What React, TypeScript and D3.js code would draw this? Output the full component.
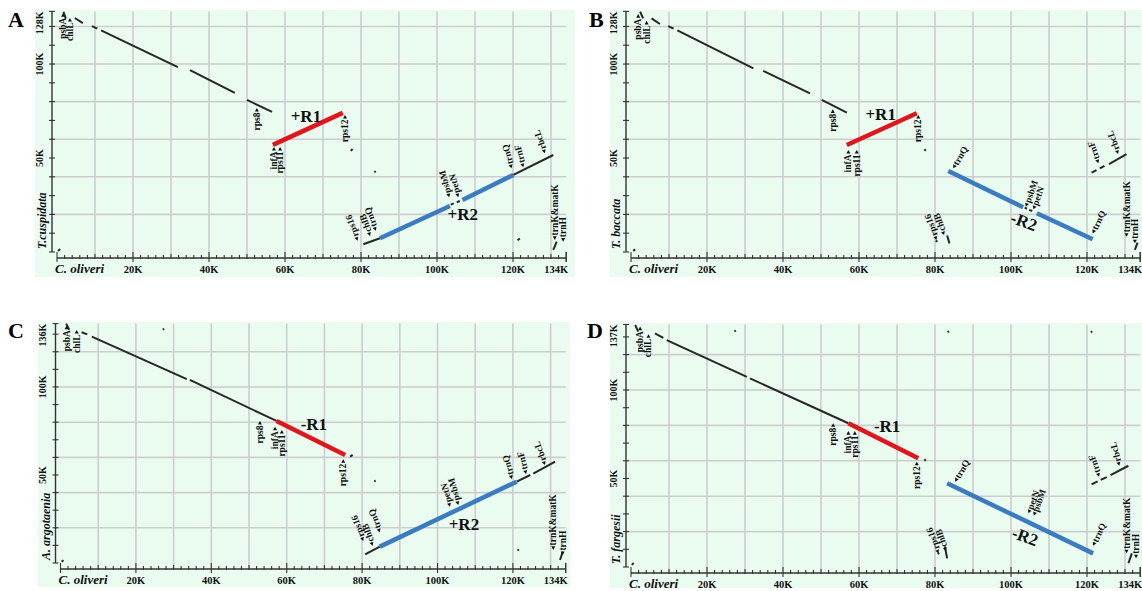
import React from "react";
import * as d3 from "d3";

type Seg = [number, number, number, number];
// name, x (K), y (K), rotation, anchor
type Lab = [string, number, number, number, "start" | "end"];
type Reg = [string, number, number, number];

const xMax = 134;
const xTicks = [20, 40, 60, 80, 100, 120, 134];

// ---- panel A : T. cuspidata vs C. oliveri
const blackA: Seg[] = [
  [0.3, 0.5, 0.8, 1.6],
  [1.7, 127.8, 2.3, 124.3],
  [4.7, 124.5, 6.8, 121.8],
  [9.2, 120.2, 10.6, 118.8],
  [11.6, 117.9, 31.8, 98.4],
  [35.0, 96.8, 46.8, 84.6],
  [50.0, 80.9, 56.6, 74.5],
  [77.3, 53.8, 77.8, 54.8],
  [83.5, 42.5, 83.9, 42.9],
  [80.6, 4.1, 85.0, 7.3],
  [103.6, 25.2, 104.4, 25.9],
  [105.2, 26.5, 106.0, 27.1],
  [120.1, 41.0, 130.6, 51.6],
  [121.2, 6.2, 121.8, 7.2],
  [130.6, 1.1, 131.5, 5.5],
];
const redA: Seg[] = [[56.8, 57.0, 75.2, 74.0]];
const blueA: Seg[] = [
  [85.0, 7.3, 103.4, 24.5],
  [106.7, 27.7, 120.1, 41.0],
];
const labelsA: Lab[] = [
  ["psbA", 1.6, 127.1, -90, "end"],
  ["chlL", 3.4, 124.5, -90, "end"],
  ["rps8", 52.6, 76.6, -90, "end"],
  ["infA", 57.1, 55.9, -90, "end"],
  ["rps11", 58.7, 55.9, -90, "end"],
  ["rps12", 75.8, 72.9, -90, "end"],
  ["rps16", 79.1, 6.0, -110, "start"],
  ["chlB", 82.4, 8.5, -110, "start"],
  ["trnQ", 83.9, 11.3, -110, "start"],
  ["psbM", 103.2, 29.1, -105, "start"],
  ["petN", 105.6, 29.1, -105, "start"],
  ["trnQ", 119.6, 44.5, -105, "start"],
  ["trnF", 122.7, 45.1, -105, "start"],
  ["rbcL", 128.4, 52.5, -110, "start"],
  ["trnK&matK", 131.0, 6.4, -90, "start"],
  ["trnH", 133.2, 5.5, -90, "start"],
];
const regionsA: Reg[] = [
  ["+R1", 65.5, 72.3, 0],
  ["+R2", 106.8, 19.7, 0],
];

// ---- panel B : T. baccata
const blackB: Seg[] = [
  [0.6, 0.6, 1.1, 1.4],
  [2.4, 127.8, 3.2, 124.3],
  [5.4, 124.3, 7.6, 121.3],
  [9.8, 120.2, 11.2, 118.8],
  [12.2, 117.9, 32.2, 97.7],
  [34.8, 96.4, 47.1, 84.4],
  [50.2, 80.9, 56.8, 74.1],
  [77.2, 53.9, 77.6, 54.7],
  [80.2, 5.4, 80.6, 6.2],
  [83.2, 8.8, 83.8, 4.6],
  [103.6, 23.6, 104.2, 23.0],
  [104.8, 22.4, 105.6, 21.8],
  [121.2, 42.2, 122.5, 43.6],
  [123.4, 44.5, 124.6, 45.8],
  [125.8, 46.8, 130.4, 52.1],
  [132.6, 1.1, 133.3, 5.0],
];
const redB: Seg[] = [[56.8, 56.9, 75.2, 73.8]];
const blueB: Seg[] = [
  [83.5, 43.1, 103.2, 23.8],
  [106.8, 20.6, 121.5, 6.8],
];
const labelsB: Lab[] = [
  ["psbA", 1.9, 126.6, -90, "end"],
  ["chlL", 4.1, 123.0, -90, "end"],
  ["rps8", 53.1, 75.9, -90, "end"],
  ["infA", 57.2, 54.3, -90, "end"],
  ["rps11", 59.4, 54.3, -90, "end"],
  ["rps12", 75.6, 72.9, -90, "end"],
  ["trnQ", 84.8, 44.5, -60, "start"],
  ["psbM", 103.9, 24.1, -70, "start"],
  ["petN", 105.9, 22.7, -70, "start"],
  ["trnQ", 121.5, 9.9, -65, "start"],
  ["rps16", 80.4, 6.4, -110, "start"],
  ["chlB", 82.4, 9.0, -110, "start"],
  ["trnF", 123.0, 47.2, -110, "start"],
  ["rbcL", 128.2, 52.1, -110, "start"],
  ["trnK&matK", 130.4, 8.1, -90, "start"],
  ["trnH", 132.6, 4.6, -90, "start"],
];
const regionsB: Reg[] = [
  ["+R1", 65.7, 72.9, 0],
  ["-R2", 103.4, 16.1, 20],
];

// ---- panel C : A. argotaenia
const blackC: Seg[] = [
  [0.3, 0.8, 0.8, 1.6],
  [1.5, 136.0, 2.3, 132.5],
  [5.6, 131.1, 7.1, 129.9],
  [8.3, 128.6, 33.5, 104.5],
  [34.3, 104.0, 57.3, 80.7],
  [27.1, 132.6, 27.5, 133.0],
  [76.8, 60.4, 77.5, 61.4],
  [83.2, 46.4, 83.6, 46.8],
  [80.8, 4.9, 84.7, 9.3],
  [121.0, 46.2, 124.6, 50.0],
  [125.4, 50.8, 131.2, 57.6],
  [121.2, 7.1, 121.6, 7.7],
  [132.5, 1.7, 133.2, 6.4],
];
const redC: Seg[] = [[57.3, 80.7, 75.5, 61.4]];
const blueC: Seg[] = [[84.7, 9.3, 121.0, 46.2]];
const labelsC: Lab[] = [
  ["psbA", 1.6, 134.8, -90, "end"],
  ["chlL", 4.3, 132.4, -90, "end"],
  ["rps8", 52.9, 80.7, -90, "end"],
  ["infA", 56.9, 77.4, -90, "end"],
  ["rps11", 58.7, 75.6, -90, "end"],
  ["rps12", 75.0, 59.0, -90, "end"],
  ["rps16", 80.3, 12.5, -110, "start"],
  ["chlB", 82.8, 9.8, -110, "start"],
  ["trnQ", 84.7, 17.4, -110, "start"],
  ["petN", 103.3, 32.0, -105, "start"],
  ["psbM", 105.5, 33.0, -105, "start"],
  ["trnQ", 119.7, 47.7, -105, "start"],
  ["trnF", 123.5, 50.6, -105, "start"],
  ["rbcL", 128.5, 55.7, -110, "start"],
  ["trnK&matK", 130.7, 7.4, -90, "start"],
  ["trnH", 133.2, 4.5, -90, "start"],
];
const regionsC: Reg[] = [
  ["-R1", 67.2, 78.8, 0],
  ["+R2", 107.0, 22.0, 0],
];

// ---- panel D : T. fargesii
const blackD: Seg[] = [
  [0.2, 1.2, 0.7, 2.2],
  [1.1, 136.7, 1.9, 133.0],
  [6.3, 132.0, 8.5, 129.5],
  [9.4, 128.2, 30.5, 107.4],
  [31.3, 106.6, 57.2, 81.2],
  [27.2, 133.1, 27.6, 133.5],
  [83.3, 132.7, 83.7, 133.1],
  [121.0, 132.7, 121.4, 133.1],
  [77.2, 60.1, 77.6, 60.8],
  [80.7, 7.4, 81.1, 8.0],
  [82.6, 11.5, 83.2, 4.9],
  [121.2, 46.7, 122.8, 48.4],
  [123.6, 49.2, 125.2, 50.8],
  [126.2, 51.9, 130.9, 57.2],
  [130.9, 2.1, 131.8, 7.7],
];
const redD: Seg[] = [[57.2, 81.2, 75.6, 61.4]];
const blueD: Seg[] = [[83.2, 47.3, 121.6, 7.7]];
const labelsD: Lab[] = [
  ["psbA", 2.4, 135.8, -90, "end"],
  ["chlL", 4.6, 131.5, -90, "end"],
  ["rps8", 53.2, 81.2, -90, "end"],
  ["infA", 57.2, 76.8, -90, "end"],
  ["rps11", 58.9, 76.8, -90, "end"],
  ["rps12", 75.2, 59.5, -90, "end"],
  ["trnQ", 85.3, 48.2, -60, "start"],
  ["petN", 104.6, 30.3, -70, "start"],
  ["psbM", 106.0, 29.0, -70, "start"],
  ["trnQ", 121.6, 12.0, -65, "start"],
  ["rps16", 80.9, 7.7, -110, "start"],
  ["chlB", 82.9, 9.0, -110, "start"],
  ["trnF", 123.2, 51.0, -110, "start"],
  ["rbcL", 128.5, 57.2, -105, "start"],
  ["trnK&matK", 130.4, 7.7, -90, "start"],
  ["trnH", 132.9, 4.9, -90, "start"],
];
const regionsD: Reg[] = [
  ["-R1", 67.4, 79.3, 0],
  ["-R2", 103.7, 17.1, 20],
];

const panels = [
  { letter: "A", species: "T.cuspidata", yMax: 128, black: blackA, red: redA, blue: blueA, labels: labelsA, regions: regionsA,
    xr: [57, 566.2], yr: [252, 11.4], bg: [35, 10, 540, 267], lp: [8, 27] },
  { letter: "B", species: "T. baccata", yMax: 128, black: blackB, red: redB, blue: blueB, labels: labelsB, regions: regionsB,
    xr: [631, 1140.2], yr: [252, 11.4], bg: [610, 10, 532, 267], lp: [589, 27] },
  { letter: "C", species: "A. argotaenia", yMax: 136, black: blackC, red: redC, blue: blueC, labels: labelsC, regions: regionsC,
    xr: [60.5, 565.7], yr: [563, 323.6], bg: [38, 322, 532, 265], lp: [8, 338] },
  { letter: "D", species: "T. fargesii", yMax: 137, black: blackD, red: redD, blue: blueD, labels: labelsD, regions: regionsD,
    xr: [631, 1140.2], yr: [567, 324.5], bg: [610, 323, 532, 265], lp: [587, 338] },
];

const serif = "Liberation Serif, Times New Roman, serif";
const gridColor = "#cdcdcd";
const axisColor = "#333";
const bold = { fontFamily: serif, fontWeight: 700 } as const;

function Panel({ p }: { p: any }) {
  const x = d3.scaleLinear().domain([0, xMax]).range(p.xr);
  const y = d3.scaleLinear().domain([0, p.yMax]).range(p.yr);
  const axisX = x(0) - 5;
  const axisY = y(0) + 6;
  const vGrid = d3.range(10, 131, 10);
  const hGrid = d3.range(20, p.yMax, 20);
  const xMinor = d3.range(0, xMax + 1, 2);
  const yMinor = d3.range(0, p.yMax, 10).concat([p.yMax]);

  const seg = (s: Seg, color: string, w: number, k: string) => (
    <line key={k} x1={x(s[0])} y1={y(s[1])} x2={x(s[2])} y2={y(s[3])} stroke={color} strokeWidth={w} />
  );

  return (
    <g>
      <rect x={p.bg[0]} y={p.bg[1]} width={p.bg[2]} height={p.bg[3]} fill="#eafcf0" />
      <text x={p.lp[0]} y={p.lp[1]} style={bold} fontSize={22} fill="#000">
        {p.letter}
      </text>

      {/* grid */}
      {vGrid.map((v) => (
        <line key={"v" + v} x1={x(v)} x2={x(v)} y1={y(p.yMax)} y2={axisY} stroke={gridColor} strokeWidth={1.6} />
      ))}
      {hGrid.map((v) => (
        <line key={"h" + v} x1={axisX} x2={x(xMax)} y1={y(v)} y2={y(v)} stroke={gridColor} strokeWidth={1.6} />
      ))}

      {/* x axis */}
      <line x1={x(0)} x2={x(xMax)} y1={axisY} y2={axisY} stroke={axisColor} strokeWidth={1.4} />
      {xMinor.map((v) => {
        const big = v % 20 === 0 || v === xMax;
        const mid = v % 10 === 0;
        return (
          <line key={"xt" + v} x1={x(v)} x2={x(v)} y1={axisY - (big ? 6 : mid ? 4 : 3)} y2={axisY + (big ? 4 : 1)}
            stroke={axisColor} strokeWidth={1.1} />
        );
      })}
      <line x1={x(xMax)} x2={x(xMax)} y1={axisY - 6} y2={axisY + 4} stroke={axisColor} strokeWidth={1.1} />
      {xTicks.map((v) => (
        <text key={"xl" + v} x={v === xMax ? x(v) + 2 : x(v)} y={axisY + 15} textAnchor={v === xMax ? "end" : "middle"}
          style={bold} fontSize={10.5} fill="#111">
          {v + "K"}
        </text>
      ))}
      <text x={x(0) - 2} y={axisY + 15} style={{ ...bold, fontStyle: "italic" }} fontSize={13} fill="#111">
        C. oliveri
      </text>

      {/* y axis */}
      <line x1={axisX} x2={axisX} y1={y(p.yMax)} y2={y(0)} stroke={axisColor} strokeWidth={1.4} />
      {yMinor.map((v) => (
        <line key={"yt" + v} x1={axisX - 3} x2={axisX + 3} y1={y(v)} y2={y(v)} stroke={axisColor} strokeWidth={1.1} />
      ))}
      {[50, 100].map((v) => (
        <text key={"yl" + v} transform={`translate(${axisX - 13},${y(v)}) rotate(-90)`} textAnchor="middle"
          dominantBaseline="central" style={bold} fontSize={10} fill="#111">
          {v + "K"}
        </text>
      ))}
      <text transform={`translate(${axisX - 13},${y(p.yMax)}) rotate(-90)`} textAnchor="end" dominantBaseline="central"
        style={bold} fontSize={10} fill="#111">
        {p.yMax + "K"}
      </text>
      <text transform={`translate(${axisX - 10},${y(0) - 3}) rotate(-90)`} textAnchor="start" dominantBaseline="central"
        style={{ ...bold, fontStyle: "italic" }} fontSize={12} fill="#111">
        {p.species}
      </text>

      {/* dot plot matches */}
      {p.black.map((s: Seg, i: number) => seg(s, "#262626", 2, "b" + i))}
      {p.red.map((s: Seg, i: number) => seg(s, "#e5141b", 4.5, "r" + i))}
      {p.blue.map((s: Seg, i: number) => seg(s, "#3a7cc2", 4.5, "u" + i))}

      {/* gene labels: small arrowhead at the gene, name beside it */}
      {p.labels.map((l: Lab, i: number) => {
        const end = l[4] === "end";
        return (
          <g key={"g" + i} transform={`translate(${x(l[1])},${y(l[2])}) rotate(${l[3]})`}>
            <path d={end ? "M-3.6,-2 L0,0 L-3.6,2 Z" : "M3.6,-2 L0,0 L3.6,2 Z"} fill="#111" />
            <text x={end ? -4.5 : 4.5} textAnchor={l[4]} dominantBaseline="central" style={bold} fontSize={9.5} fill="#111">
              {l[0]}
            </text>
          </g>
        );
      })}

      {/* region labels */}
      {p.regions.map((r: Reg, i: number) => (
        <text key={"R" + i} transform={`translate(${x(r[1])},${y(r[2])}) rotate(${r[3]})`} textAnchor="middle"
          dominantBaseline="central" style={bold} fontSize={17} fill="#111">
          {r[0]}
        </text>
      ))}
    </g>
  );
}

export default function App() {
  return (
    <svg width={1142} height={591} style={{ position: "absolute", left: 0, top: 0, background: "#fff" }}>
      {panels.map((p) => (
        <Panel key={p.letter} p={p} />
      ))}
    </svg>
  );
}
